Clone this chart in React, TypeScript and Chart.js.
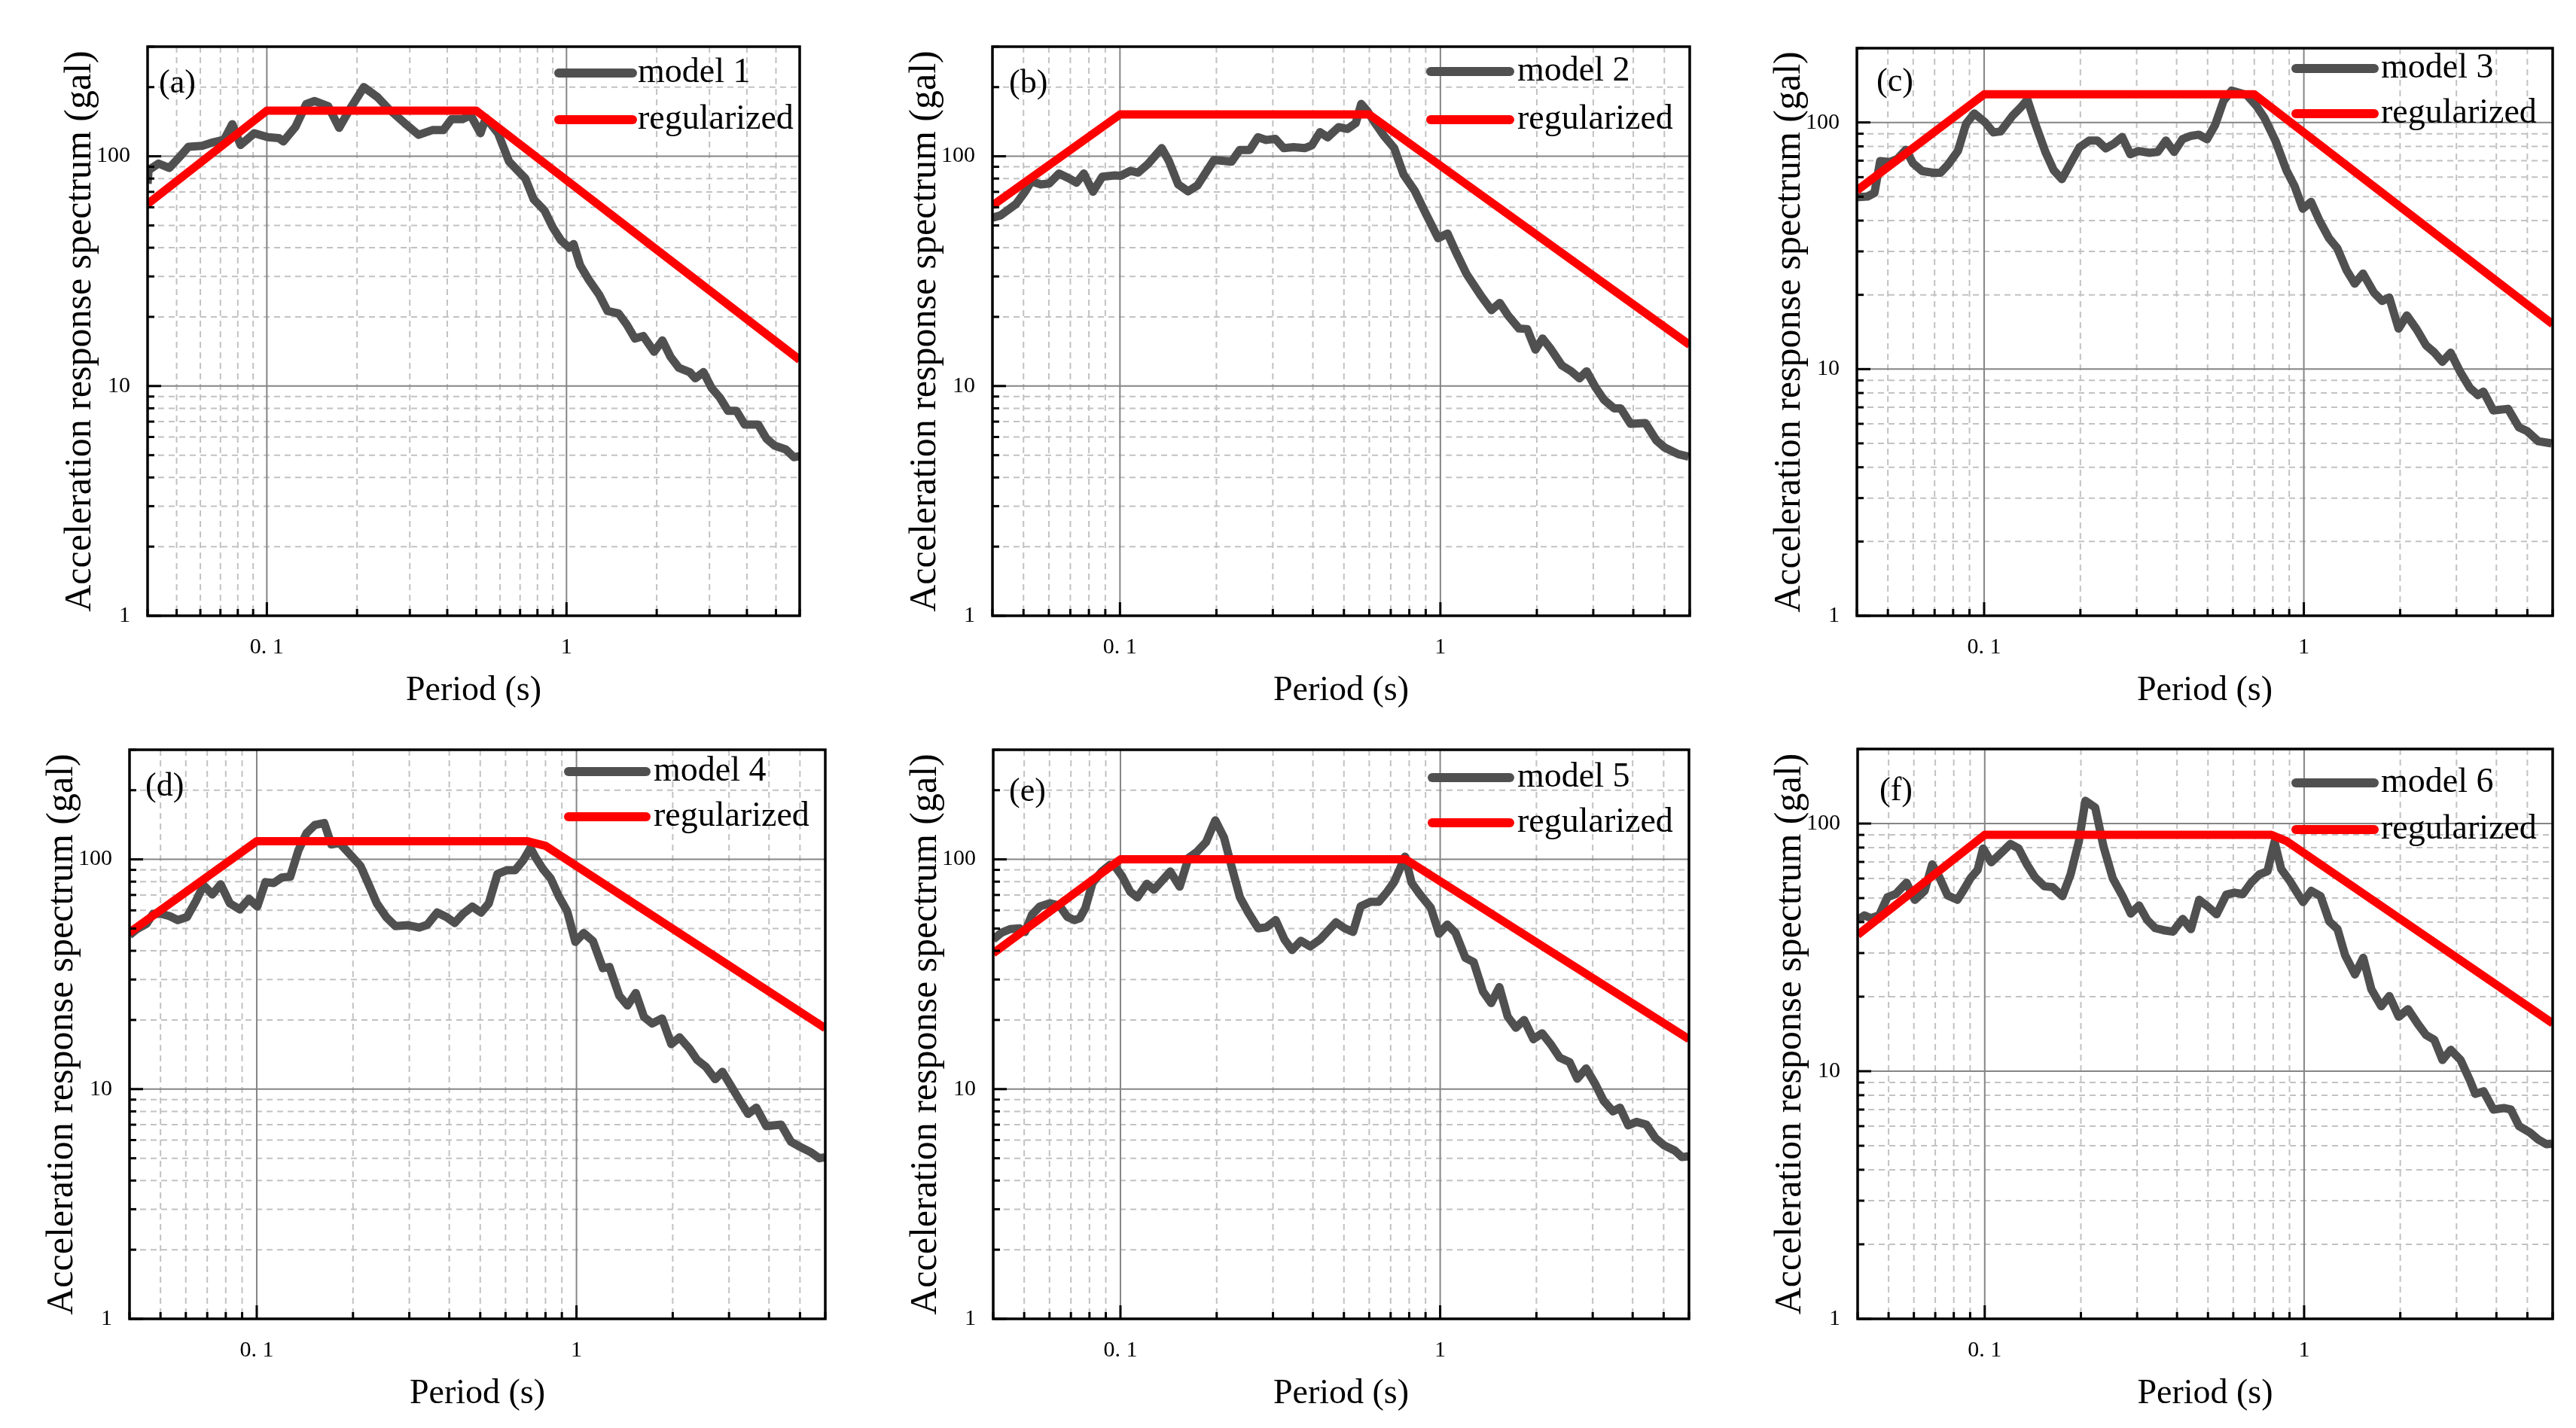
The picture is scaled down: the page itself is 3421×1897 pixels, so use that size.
import React, { useEffect, useRef } from 'react';
import { Chart, registerables } from 'chart.js';

Chart.register(...registerables);

// ---------- tick values ----------
const xTickValues = [0.04, 0.05, 0.06, 0.07, 0.08, 0.09, 0.1, 0.2, 0.3, 0.4, 0.5, 0.6, 0.7, 0.8, 0.9, 1, 2, 3, 4, 5, 6];
const yTicks300 = [1, 2, 3, 4, 5, 6, 7, 8, 9, 10, 20, 30, 40, 50, 60, 70, 80, 90, 100, 200, 300];
const yTicks200 = [1, 2, 3, 4, 5, 6, 7, 8, 9, 10, 20, 30, 40, 50, 60, 70, 80, 90, 100, 200];
const xTickLabels: Record<string, string> = { '0.1': '0. 1', '1': '1' };
const yTickLabels: Record<string, string> = { '1': '1', '10': '10', '100': '100' };

// ---------- series: period (s) and acceleration (gal) ----------
const model1Period = [0.040, 0.0403, 0.0435, 0.0473, 0.0514, 0.0548, 0.0608, 0.0662, 0.072, 0.0767, 0.0817, 0.0908, 0.1008, 0.1097, 0.1135, 0.1245, 0.1354, 0.1442, 0.1603, 0.1743, 0.1896, 0.2107, 0.234, 0.2546, 0.289, 0.3209, 0.3565, 0.388, 0.413, 0.4495, 0.4786, 0.5164, 0.538, 0.591, 0.643, 0.685, 0.729, 0.777, 0.845, 0.9, 0.959, 1.021, 1.056, 1.111, 1.183, 1.287, 1.371, 1.492, 1.589, 1.692, 1.803, 1.961, 2.089, 2.224, 2.371, 2.577, 2.69, 2.864, 3.05, 3.25, 3.46, 3.69, 3.93, 4.36, 4.65, 4.95, 5.39, 5.74, 6.0];
const model1Accel = [76, 87, 93, 89, 100, 110, 111, 115, 118, 138, 112, 126, 121, 120, 116, 134, 169, 174, 165, 133, 161, 200, 181, 161, 139, 124, 130, 130, 145, 145, 151, 126, 147, 126, 95, 87, 80, 65, 58, 49, 43, 40, 41.5, 33.5, 29.2, 24.9, 21.2, 20.7, 18.5, 16.1, 16.5, 14.1, 15.8, 13.4, 12.0, 11.5, 10.8, 11.5, 9.8, 8.9, 7.8, 7.8, 6.8, 6.8, 5.9, 5.5, 5.3, 4.9, 4.95];

const model2Period = [0.040, 0.0424, 0.0474, 0.0503, 0.0529, 0.0566, 0.0601, 0.0645, 0.069, 0.0732, 0.0771, 0.0824, 0.0881, 0.0965, 0.1004, 0.1078, 0.1139, 0.1223, 0.135, 0.1421, 0.152, 0.1632, 0.1746, 0.1965, 0.2229, 0.2365, 0.254, 0.2695, 0.286, 0.3058, 0.3245, 0.3483, 0.377, 0.3969, 0.4211, 0.4449, 0.4815, 0.5131, 0.5444, 0.5662, 0.5937, 0.6225, 0.6683, 0.7177, 0.7675, 0.8306, 0.899, 0.9843, 1.053, 1.117, 1.209, 1.334, 1.444, 1.532, 1.626, 1.759, 1.866, 1.98, 2.084, 2.203, 2.393, 2.56, 2.717, 2.86, 3.058, 3.244, 3.483, 3.652, 3.922, 4.364, 4.72, 5.01, 5.53, 5.95];
const model2Accel = [54, 55.3, 62, 69.4, 77.8, 75.4, 76.1, 84.1, 80.4, 76.8, 84.1, 70.1, 81.5, 82.6, 82.2, 86.4, 84.9, 92.5, 108.5, 95.5, 75.4, 70.4, 74.7, 96.4, 94.7, 106.6, 106.6, 121, 117.8, 119, 108.5, 109.5, 108.5, 111.5, 127.3, 121, 133.9, 131.5, 139.5, 169, 156.3, 140.8, 122.2, 108.5, 83.3, 71, 56.6, 44, 46.1, 38.4, 30.6, 24.9, 21.4, 23, 20.3, 17.8, 17.7, 14.4, 16.1, 14.6, 12.3, 11.6, 10.8, 11.6, 9.8, 8.7, 8.0, 8.0, 6.85, 6.9, 5.8, 5.4, 5.05, 4.93];

const model3Period = [0.040, 0.0432, 0.0454, 0.0473, 0.0506, 0.0536, 0.0569, 0.0599, 0.064, 0.0693, 0.073, 0.0771, 0.0828, 0.0878, 0.0932, 0.1008, 0.1069, 0.1126, 0.1228, 0.1302, 0.1366, 0.1449, 0.1555, 0.165, 0.1751, 0.1879, 0.1986, 0.2132, 0.2262, 0.2399, 0.2545, 0.2701, 0.2866, 0.3041, 0.3289, 0.349, 0.3703, 0.3929, 0.4169, 0.4422, 0.4692, 0.4978, 0.5282, 0.5604, 0.5943, 0.6306, 0.6636, 0.7096, 0.7529, 0.8147, 0.8815, 0.9352, 0.9922, 1.053, 1.117, 1.199, 1.272, 1.36, 1.443, 1.531, 1.657, 1.758, 1.85, 1.978, 2.099, 2.253, 2.409, 2.556, 2.712, 2.877, 3.089, 3.303, 3.504, 3.645, 3.913, 4.352, 4.709, 4.996, 5.406, 5.95];
const model3Accel = [49.7, 50.1, 51.8, 69.7, 69.1, 71.2, 77.5, 68.3, 63.5, 62.5, 62.5, 67.4, 76.6, 98.7, 108.8, 100, 91.1, 91.9, 106.6, 115.1, 123.6, 97.9, 75.9, 64.1, 58.9, 69.7, 79.2, 84.4, 84.4, 78.5, 81.9, 87.3, 74.3, 76.6, 75.3, 75.9, 84.4, 75.9, 85.5, 88.1, 89.2, 85.5, 97.9, 122.1, 134.6, 131.7, 129, 117, 104.3, 84.4, 64.1, 55.2, 44.7, 47.6, 40.2, 33.9, 30.9, 25.2, 22.2, 24.4, 20.4, 18.9, 19.5, 14.6, 16.5, 14.5, 12.5, 11.7, 10.7, 11.65, 9.7, 8.4, 7.85, 8.1, 6.8, 6.9, 5.8, 5.6, 5.1, 5.0];

const model4Period = [0.040, 0.0421, 0.0452, 0.0474, 0.0503, 0.0534, 0.0566, 0.0605, 0.0645, 0.0682, 0.0726, 0.0771, 0.0824, 0.0885, 0.0946, 0.1004, 0.1065, 0.113, 0.1199, 0.1273, 0.135, 0.1432, 0.152, 0.1626, 0.1711, 0.1816, 0.1965, 0.2109, 0.2229, 0.2375, 0.254, 0.2716, 0.2974, 0.3218, 0.3414, 0.3666, 0.3922, 0.4161, 0.4416, 0.4722, 0.5031, 0.5317, 0.5662, 0.6056, 0.6427, 0.6818, 0.7177, 0.7466, 0.783, 0.8306, 0.8812, 0.935, 0.9922, 1.053, 1.126, 1.209, 1.268, 1.361, 1.444, 1.532, 1.626, 1.725, 1.852, 1.98, 2.101, 2.256, 2.384, 2.54, 2.716, 2.86, 3.058, 3.244, 3.443, 3.652, 3.922, 4.364, 4.686, 5.01, 5.42, 5.754, 5.98];
const model4Accel = [46.8, 49.6, 52.4, 57.9, 57.9, 56.6, 54.4, 56.1, 65.8, 77.2, 70.4, 77.9, 64.3, 60.6, 67.3, 62.3, 79.6, 78.9, 83.4, 84.1, 109.5, 130.2, 141.3, 143.9, 116.2, 117.8, 104.6, 93.8, 78.9, 64.3, 56.1, 51.2, 51.7, 50.5, 51.9, 58.7, 56.1, 52.9, 57.9, 62.3, 58.7, 64.3, 86.5, 89.7, 89.7, 99.1, 112.1, 101.4, 91.3, 82.6, 68.9, 59.5, 43.7, 47.8, 44.1, 33.6, 34.0, 25.5, 23.1, 26.2, 20.6, 19.3, 20.3, 15.7, 16.8, 15.0, 13.4, 12.5, 11.05, 11.9, 10.2, 8.9, 7.8, 8.3, 6.9, 7.0, 5.9, 5.6, 5.3, 5.0, 5.05];

const model5Period = [0.040, 0.0424, 0.0452, 0.0484, 0.0503, 0.0529, 0.056, 0.0601, 0.0645, 0.0682, 0.0718, 0.0746, 0.0777, 0.0818, 0.0874, 0.0928, 0.0965, 0.1012, 0.1074, 0.113, 0.1209, 0.1273, 0.135, 0.1432, 0.1532, 0.1632, 0.1731, 0.1852, 0.198, 0.2109, 0.2229, 0.2365, 0.2509, 0.2695, 0.286, 0.3058, 0.3258, 0.3443, 0.3667, 0.3923, 0.4211, 0.4468, 0.4722, 0.5031, 0.5338, 0.5639, 0.6056, 0.6427, 0.6818, 0.7177, 0.7525, 0.7766, 0.8143, 0.864, 0.9351, 0.9922, 1.053, 1.117, 1.199, 1.273, 1.361, 1.444, 1.532, 1.626, 1.725, 1.83, 1.957, 2.084, 2.23, 2.365, 2.54, 2.685, 2.86, 3.058, 3.244, 3.47, 3.652, 3.875, 4.113, 4.416, 4.722, 5.01, 5.42, 5.706, 5.98];
const model5Accel = [44.8, 47.9, 49.7, 50.1, 48.3, 57.5, 62.4, 64.4, 62.9, 56.2, 54.4, 55.4, 61.5, 79.0, 88.5, 94.7, 92.6, 84.5, 72.1, 68.3, 78.3, 73.8, 80.8, 88.5, 76.1, 101.4, 107.5, 118.8, 147.8, 124.3, 92.6, 68.3, 58.8, 50.1, 50.6, 54.4, 44.8, 40.3, 44.2, 41.8, 44.8, 49.0, 53.2, 50.1, 48.3, 62.4, 65.3, 65.3, 72.1, 79.7, 92.6, 102.8, 79.0, 70.5, 61.5, 47.5, 52.0, 47.9, 37.3, 35.7, 26.6, 23.7, 27.8, 20.7, 18.5, 20.0, 16.5, 17.5, 15.5, 13.7, 13.1, 11.1, 12.3, 10.5, 8.9, 8.0, 8.3, 6.95, 7.2, 7.0, 6.1, 5.7, 5.4, 5.06, 5.1];

const model6Period = [0.040, 0.042, 0.044, 0.0467, 0.0496, 0.0526, 0.0569, 0.0604, 0.0648, 0.0685, 0.0721, 0.0765, 0.0821, 0.0861, 0.0903, 0.095, 0.0988, 0.1048, 0.1112, 0.1203, 0.1277, 0.1355, 0.1437, 0.1537, 0.1631, 0.1751, 0.1857, 0.197, 0.2066, 0.2218, 0.2353, 0.2516, 0.2702, 0.2867, 0.3041, 0.3226, 0.3421, 0.3629, 0.3882, 0.4169, 0.4422, 0.4692, 0.4978, 0.5321, 0.5711, 0.6058, 0.6427, 0.6821, 0.7238, 0.7679, 0.8078, 0.8477, 0.8994, 0.9463, 0.9922, 1.053, 1.126, 1.199, 1.272, 1.344, 1.443, 1.531, 1.624, 1.743, 1.849, 1.978, 2.115, 2.271, 2.409, 2.556, 2.712, 2.877, 3.089, 3.303, 3.436, 3.645, 3.913, 4.217, 4.439, 4.709, 5.094, 5.406, 5.736, 5.967];
const model6Accel = [40.8, 42.6, 41.5, 42.6, 50.4, 51.9, 57.7, 49.2, 53.5, 68.4, 60.7, 51.3, 49.2, 54.2, 60.2, 65.0, 79.3, 69.8, 75.0, 82.7, 79.3, 68.4, 60.7, 55.8, 55.4, 50.9, 62.3, 84.4, 123.5, 116, 81, 60.2, 50.9, 43.3, 46.7, 40.8, 37.8, 37.1, 36.6, 41.2, 37.5, 49.2, 46.4, 43.0, 51.7, 52.6, 51.9, 57.7, 62.3, 64.2, 84.4, 65.5, 59.0, 53.1, 48.2, 53.5, 50.9, 40.3, 37.5, 29.4, 24.6, 28.7, 21.4, 18.3, 20.1, 16.6, 17.8, 15.5, 14.0, 13.4, 11.1, 12.2, 11.1, 9.2, 8.1, 8.3, 7.0, 7.1, 7.0, 6.0, 5.65, 5.3, 5.07, 5.1];

const reg1Period = [0.04, 0.1, 0.5, 6];
const reg1Accel = [62, 158, 158, 13];
const reg2Period = [0.04, 0.1, 0.6, 6];
const reg2Accel = [61, 152, 152, 15.1];
const reg3Period = [0.04, 0.1, 0.7, 6];
const reg3Accel = [53, 130, 130, 15.2];
const reg4Period = [0.04, 0.1, 0.7, 0.8, 6];
const reg4Accel = [48, 120, 120, 114.6, 18.4];
const reg5Period = [0.04, 0.1, 0.78, 6];
const reg5Accel = [39, 100, 100, 16.5];
const reg6Period = [0.04, 0.1, 0.79, 0.88, 6];
const reg6Accel = [35.5, 90, 90, 85, 15.6];

const panelTags = ['(a)', '(b)', '(c)', '(d)', '(e)', '(f)'];
const modelNames = ['model 1', 'model 2', 'model 3', 'model 4', 'model 5', 'model 6'];
const regName = 'regularized';
const xTitle = 'Period (s)';
const yTitle = 'Acceleration response spectrum (gal)';

// ---------- layout (pixel placement of each plot area) ----------
type Layout = {
  L: number; R: number; T: number; B: number;
  ymax: number;
  legendRows: [number, number];
  lineFrom: number; lineTo: number; textAt: number;
  tagX: number; tagY: number;
};

const layouts: Layout[] = [
  { L: 196, R: 1062, T: 59, B: 818, ymax: 300, legendRows: [35, 97], lineFrom: 320, lineTo: 222, textAt: 215, tagX: 15, tagY: 49 },
  { L: 1318, R: 2244, T: 59, B: 818, ymax: 300, legendRows: [33, 97], lineFrom: 344, lineTo: 239, textAt: 229, tagX: 22, tagY: 49 },
  { L: 2466, R: 3390, T: 61, B: 818, ymax: 200, legendRows: [27, 87], lineFrom: 341, lineTo: 237, textAt: 228, tagX: 26, tagY: 45 },
  { L: 172, R: 1096, T: 993, B: 1752, ymax: 300, legendRows: [29, 89], lineFrom: 341, lineTo: 238, textAt: 228, tagX: 21, tagY: 49 },
  { L: 1319, R: 2243, T: 993, B: 1752, ymax: 300, legendRows: [37, 97], lineFrom: 341, lineTo: 238, textAt: 228, tagX: 21, tagY: 56 },
  { L: 2467, R: 3390, T: 992, B: 1752, ymax: 200, legendRows: [45, 107], lineFrom: 341, lineTo: 237, textAt: 228, tagX: 29, tagY: 56 },
];

const seriesPeriods = [model1Period, model2Period, model3Period, model4Period, model5Period, model6Period];
const seriesAccels = [model1Accel, model2Accel, model3Accel, model4Accel, model5Accel, model6Accel];
const regPeriods = [reg1Period, reg2Period, reg3Period, reg4Period, reg5Period, reg6Period];
const regAccels = [reg1Accel, reg2Accel, reg3Accel, reg4Accel, reg5Accel, reg6Accel];

const FONT = "'Liberation Serif', 'Times New Roman', serif";
const GRAY = '#505050';
const RED = '#ff0000';
const Y_AXIS_W = 160;
const X_AXIS_H = 140;
const PAD_TOP = 30;
const PAD_RIGHT = 30;

const isDecade = (v: number) => Math.abs(Math.log10(v) - Math.round(Math.log10(v))) < 1e-6;
const toPoints = (xs: number[], ys: number[]) => {
  const n = Math.min(xs.length, ys.length);
  const out: { x: number; y: number }[] = [];
  for (let i = 0; i < n; i++) out.push({ x: xs[i], y: ys[i] });
  return out;
};
const keyOf = (v: number) => String(Math.round(v * 1e6) / 1e6);

function ChartPanel({ idx }: { idx: number }) {
  const ref = useRef<HTMLCanvasElement | null>(null);
  const lay = layouts[idx];
  const width = lay.R - lay.L + Y_AXIS_W + PAD_RIGHT;
  const height = lay.B - lay.T + PAD_TOP + X_AXIS_H;

  useEffect(() => {
    if (!ref.current) return;
    const yTickValues = lay.ymax === 300 ? yTicks300 : yTicks200;

    const decorations = {
      id: 'decorations' + idx,
      beforeDatasetsDraw(chart: any) {
        const { ctx, chartArea: a, scales } = chart;
        const x = scales.x, y = scales.y;
        ctx.save();
        ctx.beginPath();
        ctx.rect(a.left, a.top, a.right - a.left, a.bottom - a.top);
        ctx.clip();
        for (const pass of [0, 1]) {
          for (const v of xTickValues) {
            const major = isDecade(v);
            if ((pass === 1) !== major) continue;
            const px = x.getPixelForValue(v);
            ctx.beginPath();
            ctx.lineWidth = 2;
            ctx.strokeStyle = major ? '#858585' : '#c2c2c2';
            ctx.setLineDash(major ? [] : [8, 6]);
            ctx.moveTo(px, a.top);
            ctx.lineTo(px, a.bottom);
            ctx.stroke();
          }
          for (const v of yTickValues) {
            const major = isDecade(v);
            if ((pass === 1) !== major) continue;
            const py = y.getPixelForValue(v);
            ctx.beginPath();
            ctx.lineWidth = 2;
            ctx.strokeStyle = major ? '#858585' : '#c2c2c2';
            ctx.setLineDash(major ? [] : [8, 6]);
            ctx.moveTo(a.left, py);
            ctx.lineTo(a.right, py);
            ctx.stroke();
          }
        }
        ctx.restore();
      },
      afterDatasetsDraw(chart: any) {
        const { ctx, chartArea: a, scales } = chart;
        const x = scales.x, y = scales.y;
        ctx.save();
        ctx.setLineDash([]);
        ctx.strokeStyle = '#000';
        ctx.lineWidth = 3;
        for (const v of xTickValues) {
          const px = x.getPixelForValue(v);
          const len = isDecade(v) ? 18 : 9;
          ctx.beginPath();
          ctx.moveTo(px, a.bottom);
          ctx.lineTo(px, a.bottom - len);
          ctx.stroke();
        }
        for (const v of yTickValues) {
          const py = y.getPixelForValue(v);
          const len = isDecade(v) ? 18 : 9;
          ctx.beginPath();
          ctx.moveTo(a.left, py);
          ctx.lineTo(a.left + len, py);
          ctx.stroke();
        }
        ctx.lineWidth = 3.5;
        ctx.strokeRect(a.left, a.top, a.right - a.left, a.bottom - a.top);
        const ds = chart.data.datasets;
        ds.forEach((d: any, i: number) => {
          const yy = a.top + lay.legendRows[i];
          ctx.beginPath();
          ctx.lineCap = 'round';
          ctx.lineWidth = 12;
          ctx.strokeStyle = d.borderColor;
          ctx.moveTo(a.right - lay.lineFrom, yy);
          ctx.lineTo(a.right - lay.lineTo, yy);
          ctx.stroke();
          ctx.fillStyle = '#000';
          ctx.font = `46px ${FONT}`;
          ctx.textAlign = 'left';
          ctx.textBaseline = 'middle';
          ctx.fillText(d.label, a.right - lay.textAt, yy);
        });
        ctx.fillStyle = '#000';
        ctx.font = `44px ${FONT}`;
        ctx.textAlign = 'left';
        ctx.textBaseline = 'middle';
        ctx.fillText(panelTags[idx], a.left + lay.tagX, a.top + lay.tagY);
        ctx.restore();
      },
    };

    const chart = new Chart(ref.current, {
      type: 'line',
      data: {
        datasets: [
          {
            label: modelNames[idx],
            data: toPoints(seriesPeriods[idx], seriesAccels[idx]),
            borderColor: GRAY,
            backgroundColor: GRAY,
            borderWidth: 11,
            pointRadius: 0,
            tension: 0,
            borderJoinStyle: 'round',
            order: 1,
          },
          {
            label: regName,
            data: toPoints(regPeriods[idx], regAccels[idx]),
            borderColor: RED,
            backgroundColor: RED,
            borderWidth: 11,
            pointRadius: 0,
            tension: 0,
            borderJoinStyle: 'round',
            order: 0,
          },
        ],
      },
      options: {
        responsive: false,
        animation: false,
        devicePixelRatio: 1,
        events: [],
        layout: { padding: { left: 0, top: PAD_TOP, right: PAD_RIGHT, bottom: 0 } },
        plugins: { legend: { display: false }, tooltip: { enabled: false }, title: { display: false } },
        scales: {
          x: {
            type: 'logarithmic',
            min: 0.04,
            max: 6,
            afterBuildTicks: (s: any) => { s.ticks = xTickValues.map((v) => ({ value: v })); },
            afterFit: (s: any) => { s.height = X_AXIS_H; },
            grid: { display: false },
            border: { display: false },
            ticks: {
              autoSkip: false,
              maxRotation: 0,
              minRotation: 0,
              padding: 16,
              color: '#000',
              font: { family: FONT, size: 30 },
              callback: (v: any) => xTickLabels[keyOf(Number(v))] ?? '',
            },
            title: {
              display: true,
              text: xTitle,
              color: '#000',
              font: { family: FONT, size: 46, lineHeight: 1 },
              padding: { top: 0, bottom: 17 },
            },
          },
          y: {
            type: 'logarithmic',
            min: 1,
            max: lay.ymax,
            afterBuildTicks: (s: any) => { s.ticks = yTickValues.map((v) => ({ value: v })); },
            afterFit: (s: any) => { s.width = Y_AXIS_W; },
            grid: { display: false },
            border: { display: false },
            ticks: {
              autoSkip: false,
              padding: 15,
              color: '#000',
              font: { family: FONT, size: 30 },
              callback: (v: any) => yTickLabels[keyOf(Number(v))] ?? '',
            },
            title: {
              display: true,
              text: yTitle,
              color: '#000',
              font: { family: FONT, size: 50, lineHeight: 1 },
              padding: { top: 46, bottom: 0 },
            },
          },
        },
      } as any,
      plugins: [decorations],
    });
    return () => chart.destroy();
  }, [idx]);

  return (
    <canvas
      ref={ref}
      width={width}
      height={height}
      style={{ position: 'absolute', left: lay.L - Y_AXIS_W, top: lay.T - PAD_TOP, width, height }}
    />
  );
}

export default function App() {
  return (
    <div style={{ position: 'absolute', left: 0, top: 0, width: 3421, height: 1897, background: '#fff', overflow: 'hidden' }}>
      {layouts.map((_, i) => (
        <ChartPanel key={i} idx={i} />
      ))}
    </div>
  );
}
